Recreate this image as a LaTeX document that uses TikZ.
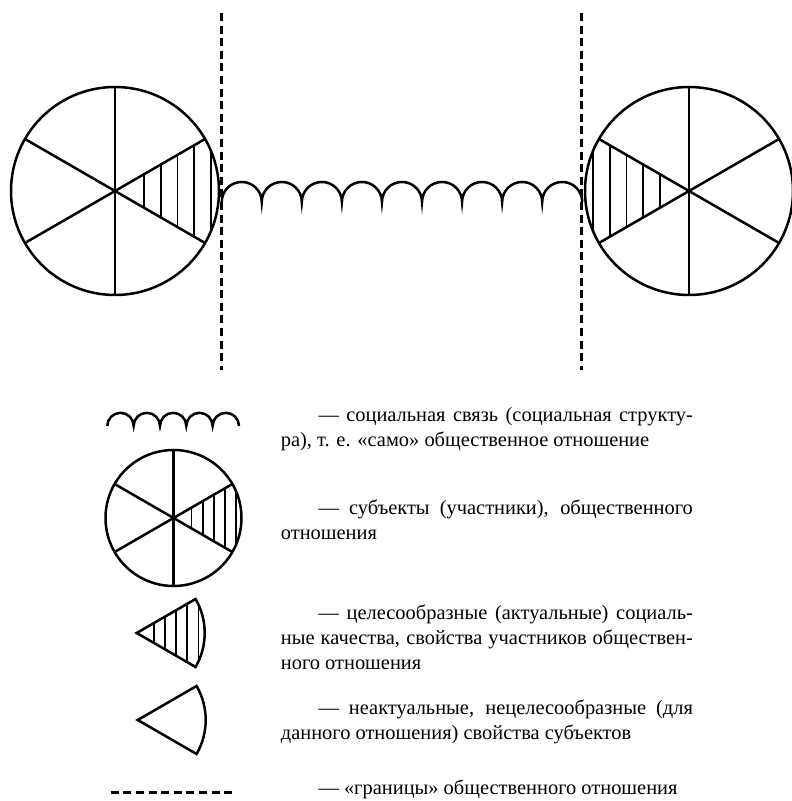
\documentclass[tikz,border=0pt]{standalone}
\usepackage{fontspec}
\setmainfont{Liberation Serif}
\begin{document}
\begin{tikzpicture}[x=1bp,y=1bp,
  ln/.style={line width=2.5bp},
  hatchln/.style={line width=1.8bp},
  bdash/.style={line width=2.5bp, dash pattern=on 8bp off 4.6bp},
  txt/.style={inner sep=0pt, anchor=base west, font=\fontsize{20.5}{25}\selectfont}]
\useasboundingbox (0,0) rectangle (792,801);
% ---- main circles
\coordinate (L) at (115,610);
\coordinate (R) at (689,610);
\draw[ln] (L) circle[radius=104];
\draw[ln] (R) circle[radius=104];
\foreach \a in {30,90,150,210,270,330}{
  \draw[ln] (L) -- ++(\a:104);
  \draw[ln] (R) -- ++(\a:104);
}
\begin{scope}
\clip (L) -- ++(-30:104) arc[start angle=-30, end angle=30, radius=104] -- cycle;
\foreach \d in {29,45.75,62.5,79.25,96} \draw[hatchln] ([xshift=\d bp]L) ++(0,-110) -- ++(0,220);
\end{scope}
\begin{scope}
\clip (R) -- ++(150:104) arc[start angle=150, end angle=210, radius=104] -- cycle;
\foreach \d in {29,45.75,62.5,79.25,96} \draw[hatchln] ([xshift=-\d bp]R) ++(0,-110) -- ++(0,220);
\end{scope}
% ---- boundaries
\coordinate (bl1) at (221.7,788);
\coordinate (bl2) at (221.7,431);
\coordinate (br1) at (581.7,788);
\coordinate (br2) at (581.7,431);
\draw[bdash] (bl1) -- (bl2);
\draw[bdash] (br1) -- (br2);
% ---- chain
\coordinate (cs) at (221.7,599);
\draw[ln] (cs) \foreach \i in {1,...,9}{ arc[start angle=180, end angle=0, radius=20.03] };
% ---- legend symbols
\coordinate (lc) at (107.3,375);
\draw[ln] (lc) \foreach \i in {1,...,5}{ arc[start angle=180, end angle=0, radius=13.17] };
\coordinate (M) at (173.5,283);
\draw[ln] (M) circle[radius=68];
\foreach \a in {30,90,150,210,270,330} \draw[ln] (M) -- ++(\a:68);
\begin{scope}
\clip (M) -- ++(-30:68) arc[start angle=-30, end angle=30, radius=68] -- cycle;
\foreach \d in {18,29.2,40.4,51.6,62.8} \draw[hatchln] ([xshift=\d bp]M) ++(0,-70) -- ++(0,140);
\end{scope}
\coordinate (S1) at (136.7,168);
\begin{scope}
\clip (S1) -- ++(-30:68) arc[start angle=-30, end angle=30, radius=68] -- cycle;
\foreach \d in {17,28.2,39.4,50.6,61.8} \draw[hatchln] ([xshift=\d bp]S1) ++(0,-70) -- ++(0,140);
\end{scope}
\draw[ln, line join=miter] (S1) -- ++(-30:68) arc[start angle=-30, end angle=30, radius=68] -- cycle;
\coordinate (S2) at (137.7,81);
\draw[ln, line join=miter] (S2) -- ++(-30:68) arc[start angle=-30, end angle=30, radius=68] -- cycle;
\coordinate (d1) at (110.7,8.3);
\coordinate (d2) at (236,8.3);
\draw[bdash] (d1) -- (d2);
% ---- legend texts
\node[txt] (t1a) at (318.3,379.5) {\makebox[374.4bp][s]{— социальная связь (социальная структу-}};
\node[txt] (t1b) at (280.7,354.5) {ра), т. е. «само» общественное отношение};
\node[txt] (t2a) at (318.3,286) {\makebox[374.4bp][s]{— субъекты (участники), общественного}};
\node[txt] (t2b) at (280.7,261) {отношения};
\node[txt] (t3a) at (318.3,181) {\makebox[374.4bp][s]{— целесообразные (актуальные) социаль-}};
\node[txt] (t3b) at (280.7,156) {\makebox[412bp][s]{ные качества, свойства участников обществен-}};
\node[txt] (t3c) at (280.7,131) {ного отношения};
\node[txt] (t4a) at (318.3,86) {\makebox[374.4bp][s]{— неактуальные, нецелесообразные (для}};
\node[txt] (t4b) at (280.7,61) {данного отношения) свойства субъектов};
\node[txt] (t5) at (318.3,6) {— «границы» общественного отношения};
\end{tikzpicture}
\end{document}
